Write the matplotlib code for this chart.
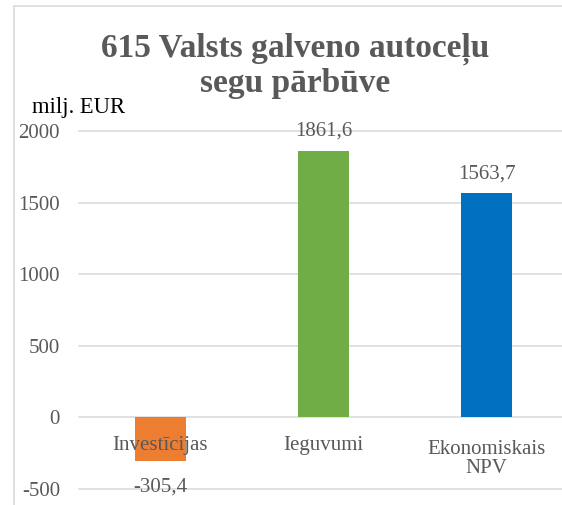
import matplotlib
matplotlib.use("Agg")
import matplotlib.pyplot as plt
from matplotlib.lines import Line2D

categories = ["Investīcijas", "Ieguvumi", "Ekonomiskais\nNPV"]
values = [-305.4, 1861.6, 1563.7]
value_labels = ["-305,4", "1861,6", "1563,7"]
bar_colors = ["#ED7D31", "#70AD47", "#0070C0"]
y_ticks = [-500, 0, 500, 1000, 1500, 2000]

plt.rcParams["font.family"] = ["Liberation Serif", "DejaVu Serif"]
grey = "#595959"

W, H = 562, 505
fig = plt.figure(figsize=(W / 100, H / 100), dpi=100)

# chart frame (left and top edges only, the rest is cut off)
fig.add_artist(Line2D([14 / W, 14 / W], [0, 1 - 6 / H], transform=fig.transFigure,
                      color="#D9D9D9", lw=1.1))
fig.add_artist(Line2D([14 / W, 1], [1 - 6 / H, 1 - 6 / H], transform=fig.transFigure,
                      color="#D9D9D9", lw=1.1))

ax = fig.add_axes([78.5 / W, 0, (W - 78.5) / W, (H - 126) / H])
ax.set_xlim(-0.5, -0.5 + (W - 78.5) / 163.3)
ax.set_ylim(-615, 2035)

x = range(len(categories))
ax.bar(x, values, width=0.312, color=bar_colors, zorder=2)

ax.set_yticks(y_ticks)
ax.set_yticklabels([str(t) for t in y_ticks])
ax.tick_params(axis="y", length=0, pad=13.3, labelsize=15, labelcolor=grey)
ax.set_xticks([])
ax.yaxis.grid(True, color="#D9D9D9", lw=1.1, zorder=0)
for gl in ax.get_ygridlines():
    gl.set_clip_on(False)
for s in ax.spines.values():
    s.set_visible(False)
ax.set_facecolor("none")

# value labels above / below bars
for i, (v, lab) in enumerate(zip(values, value_labels)):
    off = 10.8 if v >= 0 else -22.1
    ax.annotate(lab, (i, v), xytext=(0, off), textcoords="offset points",
                ha="center", va="baseline", fontsize=15, color=grey, zorder=4)

# category labels sit just under the zero line
# (baseline alignment uses the last line, so push wrapped labels further down)
for i, cat in enumerate(categories):
    nlines = cat.count("\n") + 1
    ax.annotate(cat, (i, 0), xytext=(0, -24 - 16.3 * (nlines - 1)),
                textcoords="offset points",
                ha="center", va="baseline", fontsize=15, color=grey,
                linespacing=1.0, zorder=4)

fig.text(295.5 / W, 1 - 91.7 / H, "615 Valsts galveno autoceļu\nsegu pārbūve",
         ha="center", va="baseline", fontsize=24, fontweight="bold",
         color=grey, linespacing=1.12)
fig.text(31.7 / W, 1 - 113 / H, "milj. EUR", ha="left", va="baseline",
         fontsize=16.3, color="black")

fig.savefig("out.png", dpi=100)
